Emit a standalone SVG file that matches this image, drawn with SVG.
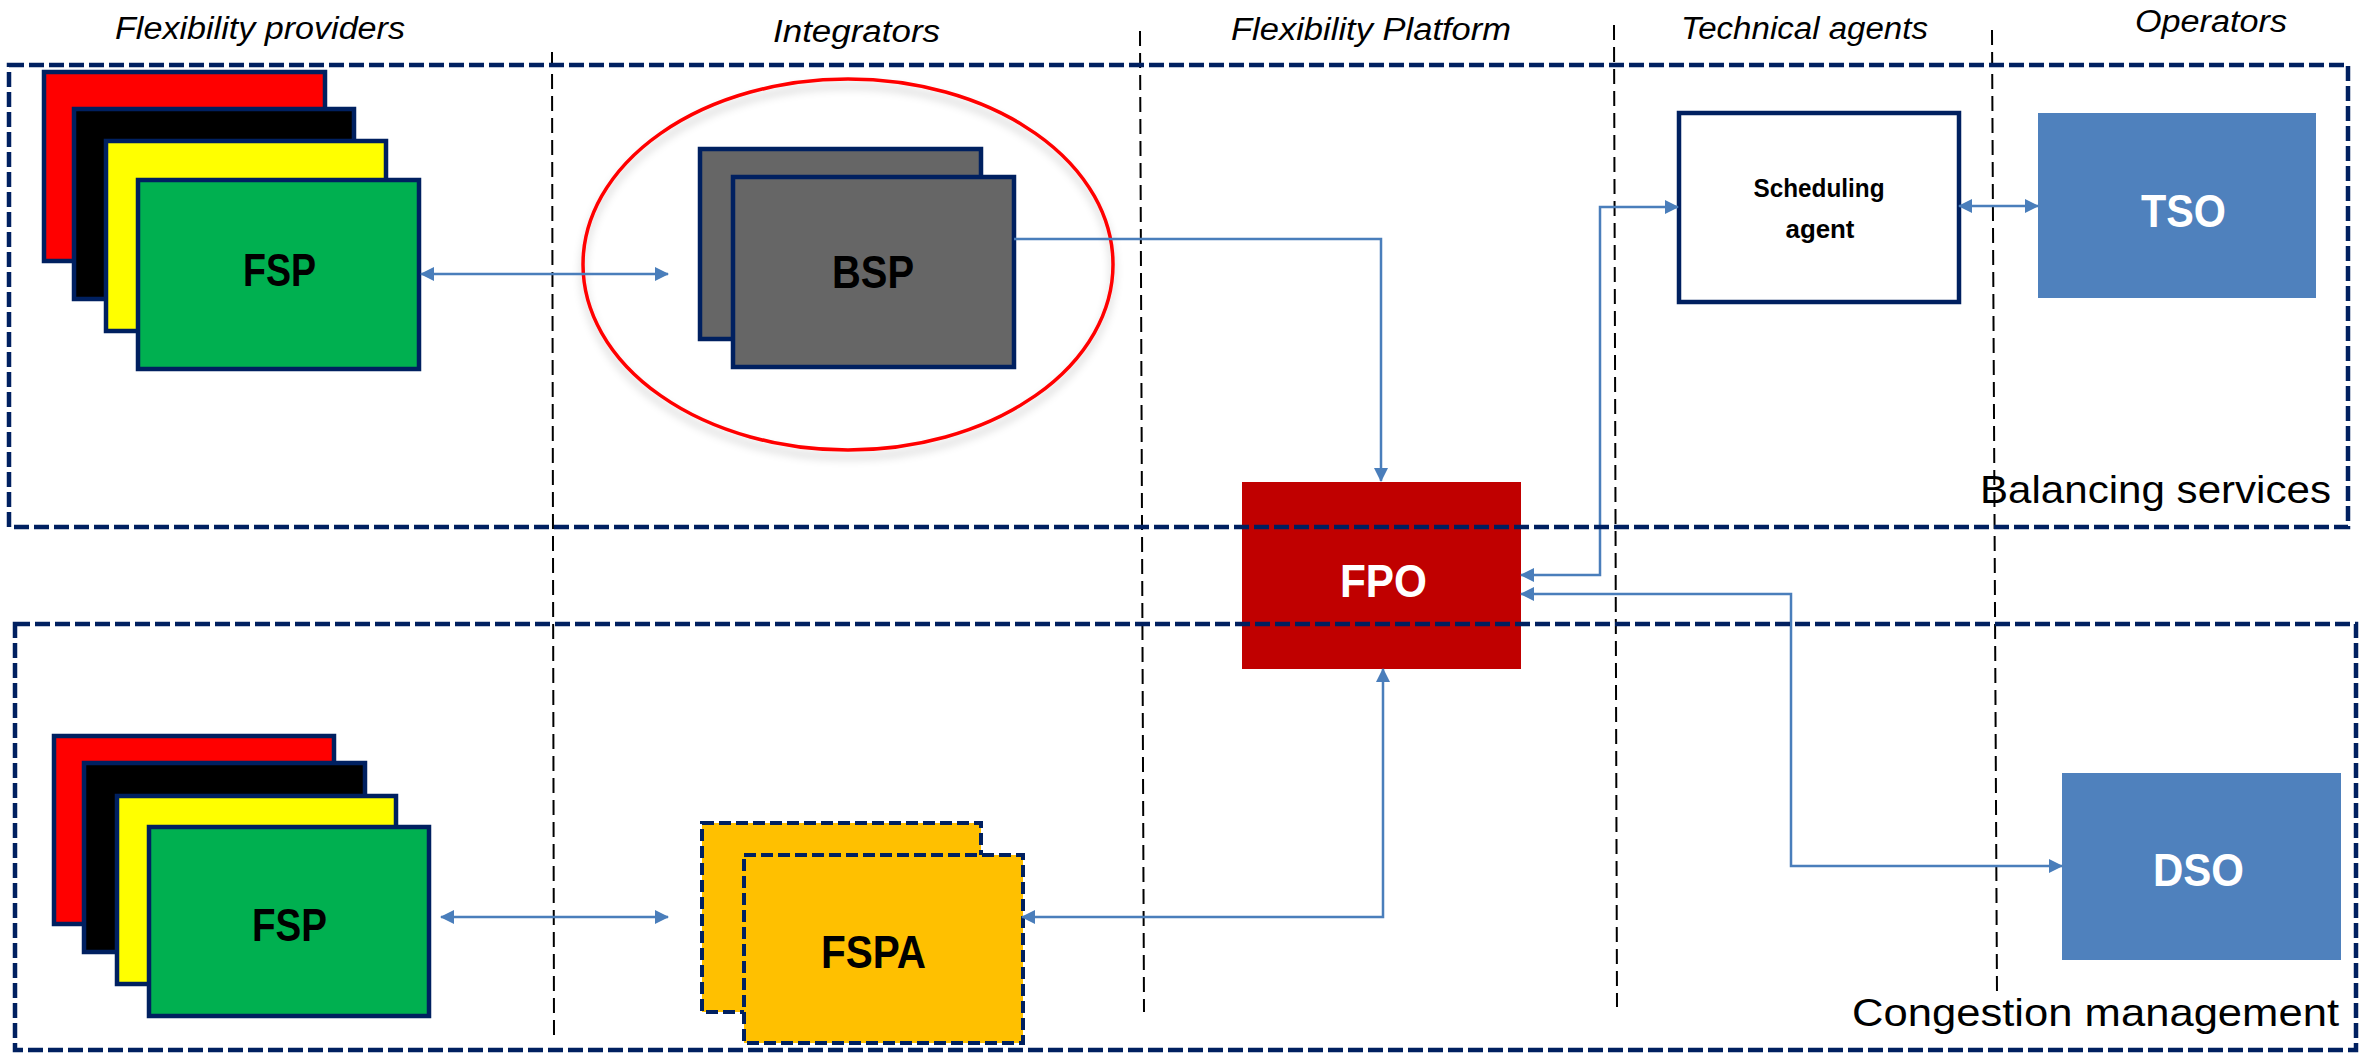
<svg xmlns="http://www.w3.org/2000/svg" width="2366" height="1057" viewBox="0 0 2366 1057">
<style>
.hdr{font-family:"Liberation Sans Narrow","Liberation Sans",sans-serif;font-style:italic;font-size:31px;fill:#000}
.lbl{font-family:"Liberation Sans Narrow","Liberation Sans",sans-serif;font-weight:bold;font-size:46px}
.sec{font-family:"Liberation Sans Narrow","Liberation Sans",sans-serif;font-size:39px;fill:#000}
.stk{stroke:#002060;stroke-width:4.5}
.grp{fill:none;stroke:#002060;stroke-width:4.5;stroke-dasharray:15 5}
.col{stroke:#000;stroke-width:2;stroke-dasharray:15 7;fill:none}
.con{fill:none;stroke:#4a7ebb;stroke-width:2.5;marker-start:url(#ah);marker-end:url(#ah)}
.fspa{fill:#ffc000;stroke:#002060;stroke-width:4;stroke-dasharray:12 5}
</style>
<defs>
<marker id="ah" viewBox="0 0 14 14" refX="13" refY="7" markerWidth="14" markerHeight="14" markerUnits="userSpaceOnUse" orient="auto-start-reverse">
<path d="M0,0 L14,7 L0,14 z" fill="#4a7ebb"/>
</marker>
<filter id="sh" x="-20%" y="-20%" width="140%" height="140%">
<feDropShadow dx="0" dy="7" stdDeviation="4" flood-color="#000" flood-opacity="0.22"/>
</filter>
</defs>
<rect width="2366" height="1057" fill="#fff"/>

<g id="headers">
<text class="hdr" x="115" y="39" textLength="290" lengthAdjust="spacingAndGlyphs">Flexibility providers</text>
<text class="hdr" x="773" y="42" textLength="167" lengthAdjust="spacingAndGlyphs">Integrators</text>
<text class="hdr" x="1231" y="40" textLength="280" lengthAdjust="spacingAndGlyphs">Flexibility Platform</text>
<text class="hdr" x="1681" y="39" textLength="247" lengthAdjust="spacingAndGlyphs">Technical agents</text>
<text class="hdr" x="2135" y="32" textLength="152" lengthAdjust="spacingAndGlyphs">Operators</text>
</g>

<g id="columns">
<line class="col" x1="552" y1="52" x2="554" y2="1036"/>
<line class="col" x1="1140" y1="31" x2="1144" y2="1012"/>
<line class="col" x1="1614" y1="25" x2="1617" y2="1007"/>
<line class="col" x1="1992" y1="30" x2="1997" y2="996"/>
</g>

<g id="fsp-top">
<rect class="stk" x="44" y="72" width="281" height="189" fill="#ff0000"/>
<rect class="stk" x="74" y="109" width="280" height="190" fill="#000000"/>
<rect class="stk" x="106" y="141" width="280" height="190" fill="#ffff00"/>
<rect class="stk" x="138" y="180" width="281" height="189" fill="#00b050"/>
<text class="lbl" x="243" y="286" textLength="73" lengthAdjust="spacingAndGlyphs" fill="#000">FSP</text>
</g>

<g id="bsp">
<ellipse cx="848" cy="264.5" rx="265" ry="185.5" fill="none" stroke="#ff0000" stroke-width="3.5" filter="url(#sh)"/>
<rect class="stk" x="700" y="149" width="281" height="190" fill="#666666"/>
<rect class="stk" x="733" y="177" width="281" height="190" fill="#666666"/>
<text class="lbl" x="832" y="288" textLength="82" lengthAdjust="spacingAndGlyphs" fill="#000">BSP</text>
</g>

<g id="scheduling-agent">
<rect x="1679" y="113" width="280" height="189" fill="#fff" stroke="#002060" stroke-width="4.5"/>
<text x="1819" y="197" text-anchor="middle" font-family="Liberation Sans Narrow, Liberation Sans, sans-serif" font-weight="bold" font-size="25" textLength="131" lengthAdjust="spacingAndGlyphs">Scheduling</text>
<text x="1820" y="238" text-anchor="middle" font-family="Liberation Sans Narrow, Liberation Sans, sans-serif" font-weight="bold" font-size="25" textLength="69" lengthAdjust="spacingAndGlyphs">agent</text>
</g>

<g id="tso">
<rect x="2038" y="113" width="278" height="185" fill="#4f81bd"/>
<text class="lbl" x="2141" y="227" textLength="85" lengthAdjust="spacingAndGlyphs" fill="#fff">TSO</text>
</g>

<g id="fpo">
<rect x="1242" y="482" width="279" height="187" fill="#c00000"/>
<text class="lbl" x="1340" y="597" textLength="87" lengthAdjust="spacingAndGlyphs" fill="#fff">FPO</text>
</g>

<g id="dso">
<rect x="2062" y="773" width="279" height="187" fill="#4f81bd"/>
<text class="lbl" x="2153" y="886" textLength="91" lengthAdjust="spacingAndGlyphs" fill="#fff">DSO</text>
</g>

<g id="fsp-bottom">
<rect class="stk" x="54" y="736" width="280" height="188" fill="#ff0000"/>
<rect class="stk" x="84" y="763" width="281" height="189" fill="#000000"/>
<rect class="stk" x="117" y="796" width="279" height="188" fill="#ffff00"/>
<rect class="stk" x="149" y="827" width="280" height="189" fill="#00b050"/>
<text class="lbl" x="252" y="941" textLength="75" lengthAdjust="spacingAndGlyphs" fill="#000">FSP</text>
</g>

<g id="fspa">
<rect class="fspa" x="702" y="823" width="279" height="189"/>
<rect class="fspa" x="744" y="855" width="279" height="188"/>
<text class="lbl" x="821" y="968" textLength="105" lengthAdjust="spacingAndGlyphs" fill="#000">FSPA</text>
</g>

<g id="connectors">
<path class="con" d="M421,274 H668"/>
<path class="con" style="marker-start:none" d="M1014,239 H1381 V481"/>
<path class="con" d="M1521,575 H1600 V207 H1678"/>
<path class="con" d="M1959,206 H2038"/>
<path class="con" d="M1521,594 H1791 V866 H2062"/>
<path class="con" d="M1383,669 V917 H1022"/>
<path class="con" d="M441,917 H668"/>
</g>

<g id="balancing-services">
<rect class="grp" x="9" y="65" width="2339" height="462"/>
<text class="sec" x="1980" y="503" textLength="351" lengthAdjust="spacingAndGlyphs">Balancing services</text>
</g>

<g id="congestion-management">
<rect class="grp" x="15" y="624" width="2341" height="426"/>
<text class="sec" x="1852" y="1026" textLength="487" lengthAdjust="spacingAndGlyphs">Congestion management</text>
</g>
</svg>
